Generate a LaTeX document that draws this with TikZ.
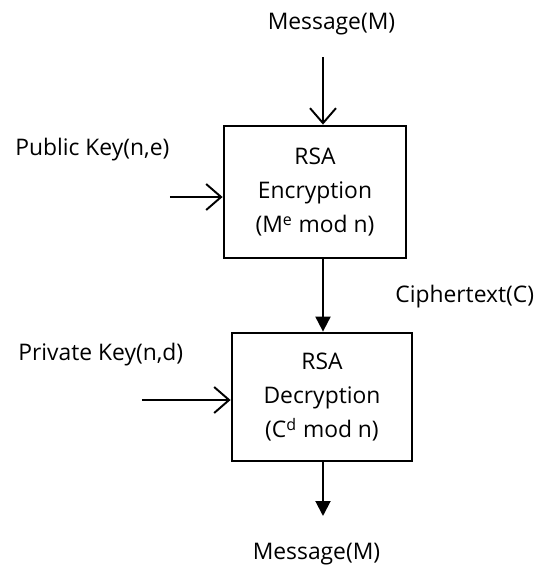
\documentclass[tikz,border=0pt]{standalone}
\usepackage{fontspec}
\setmainfont{Open Sans}
\usepackage{tikz}
\usetikzlibrary{positioning, arrows.meta}
\tikzset{
    rsabox/.style={draw, line width=1.6pt, minimum width=3.64cm, minimum height=2.64cm, align=center, font=\fontsize{13}{19.5}\selectfont, inner sep=0pt},
    inarrow/.style={-{Straight Barb[length=0.3cm, width=0.52cm]}, line width=1.1pt},
    flowarrow/.style={-{Triangle[length=0.3cm, width=0.3cm]}, line width=1.1pt},
    lbl/.style={font=\fontsize{13}{16}\selectfont, inner sep=0pt},
}

\begin{document}
\begin{tikzpicture}[x=0.02cm, y=-0.02cm]
        \useasboundingbox (0,0) rectangle (543,566);
        \node[rsabox] (enc) at (315,192) {RSA\\ Encryption\\ (M\textsuperscript{e} mod n)};
        \node[rsabox, minimum width=3.6cm, minimum height=2.56cm] (dec) at (322,397) {RSA\\ Decryption\\ (C\textsuperscript{d} mod n)};
        \node[lbl, anchor=base] (msgin) at (331.5,29) {Message(M)};
        \node[lbl, anchor=base west] (pub) at (15,155) {Public Key(n,e)};
        \node[lbl, anchor=base west] (ctext) at (395,302) {Ciphertext(C)};
        \node[lbl, anchor=base west] (priv) at (18,360) {Private Key(n,d)};
        \node[lbl, anchor=base] (msgout) at (316.5,559) {Message(M)};
        \coordinate (topin) at (323,57);
        \coordinate (pubin) at (170,197);
        \coordinate (privin) at (142,400);
        \coordinate (botout) at (323,516);
        \draw[inarrow] (topin) -- (topin |- enc.north);
        \draw[inarrow] (pubin) -- (enc.west |- pubin);
        \draw[flowarrow] (enc.south -| topin) -- (dec.north -| topin);
        \draw[inarrow] (privin) -- (dec.west |- privin);
        \draw[flowarrow] (dec.south -| botout) -- (botout);
    \end{tikzpicture}
\end{document}
